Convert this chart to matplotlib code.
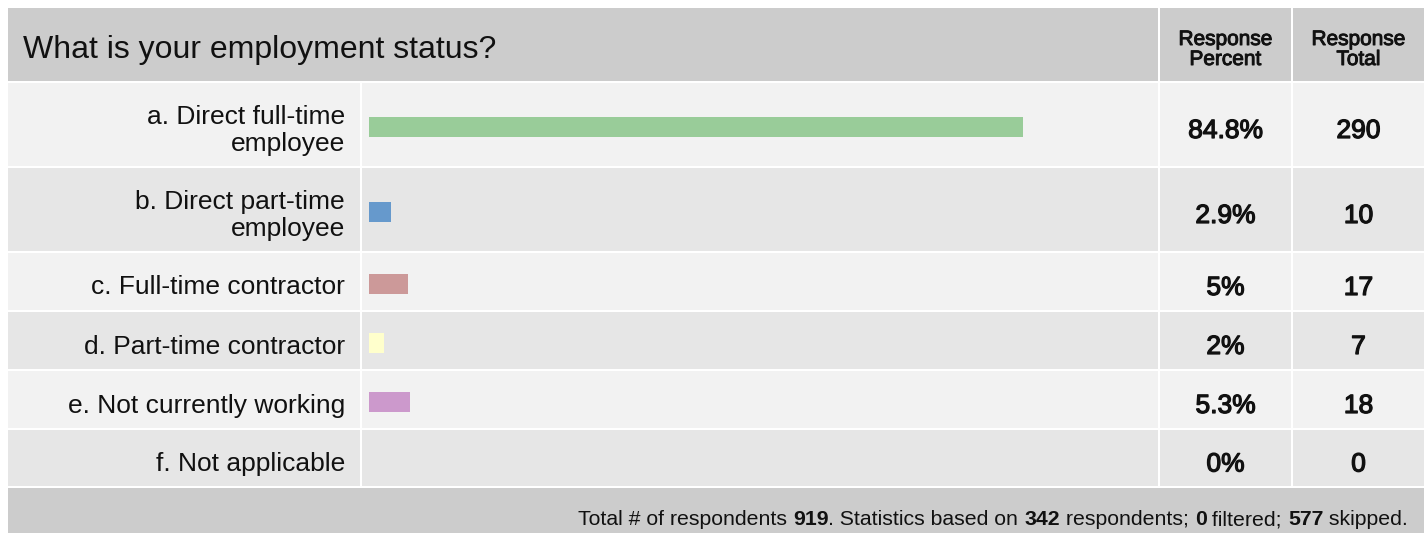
import matplotlib
matplotlib.use("Agg")
import matplotlib.pyplot as plt
from matplotlib.patches import Rectangle
import matplotlib.patheffects as pe

# ---------------- data ----------------
title = "What is your employment status?"
categories = ["a. Direct full-time\nemployee", "b. Direct part-time\nemployee",
              "c. Full-time contractor", "d. Part-time contractor",
              "e. Not currently working", "f. Not applicable"]
percents = [84.8, 2.9, 5.0, 2.0, 5.3, 0.0]
totals = [290, 10, 17, 7, 18, 0]
bar_colors = ["#99CC99", "#6699CC", "#CC9999", "#FFFFCC", "#CC99CC", "#CCCCCC"]
col_headers = ["Response\nPercent", "Response\nTotal"]
footer_parts = [("Total # of respondents ", False), ("919", True),
                (". Statistics based on ", False), ("342", True),
                (" respondents; ", False), ("0", True), (" filtered; ", False),
                ("577", True), (" skipped.", False)]

# ---------------- layout (pixels) ----------------
W, H = 1428, 533
plt.rcParams['font.family'] = ['Liberation Sans', 'DejaVu Sans']
fig = plt.figure(figsize=(W / 100, H / 100), dpi=100)
ax = fig.add_axes([0, 0, 1, 1])
ax.set_xlim(0, W)
ax.set_ylim(H, 0)
ax.axis('off')

X0, X1 = 8, 1424
cols = [(8, 360), (362, 1158), (1160, 1291), (1293, 1424)]
header = (8, 81)
rows = [(83, 166), (168, 251), (253, 310), (312, 369), (371, 428), (430, 486)]
footer = (488, 533)
row_bg = ["#F2F2F2", "#E6E6E6"]
TXT = '#111111'
medium = [pe.withStroke(linewidth=0.9, foreground=TXT)]
medium_h = [pe.withStroke(linewidth=0.7, foreground=TXT)]


def rect(x0, x1, y0, y1, c):
    ax.add_patch(Rectangle((x0, y0), x1 - x0, y1 - y0, facecolor=c,
                           edgecolor='none', zorder=1))


# header
rect(cols[0][0], cols[1][1], header[0], header[1], "#CCCCCC")
for (c0, c1) in cols[2:]:
    rect(c0, c1, header[0], header[1], "#CCCCCC")
ax.text(23, 58, title, fontsize=23, ha='left', va='baseline', color=TXT, zorder=3)
for (c0, c1), h in zip(cols[2:], col_headers):
    l1, l2 = h.split("\n")
    xc = (c0 + c1) / 2
    ax.text(xc, 45, l1, fontsize=15, ha='center', va='baseline', color=TXT,
            zorder=3, path_effects=medium_h)
    ax.text(xc, 65, l2, fontsize=15, ha='center', va='baseline', color=TXT,
            zorder=3, path_effects=medium_h)

# rows
for i, ((r0, r1), cat, p, t) in enumerate(zip(rows, categories, percents, totals)):
    bg = row_bg[i % 2]
    for (c0, c1) in cols:
        rect(c0, c1, r0, r1, bg)
    yc = (r0 + r1) / 2
    lines = cat.split("\n")
    if len(lines) == 1:
        baselines = [yc + 13]
    else:
        baselines = [yc, yc + 26.5]
    for ln, b in zip(lines, baselines):
        ax.text(345, b, ln, fontsize=19, ha='right', va='baseline', color=TXT, zorder=3)
    ax.text((cols[2][0] + cols[2][1]) / 2, yc + 13.5, f"{p:g}%", fontsize=19,
            ha='center', va='baseline', color=TXT, zorder=3, path_effects=medium)
    ax.text((cols[3][0] + cols[3][1]) / 2, yc + 13.5, f"{t}", fontsize=19,
            ha='center', va='baseline', color=TXT, zorder=3, path_effects=medium)

# footer
rect(X0, X1, footer[0], H + 5, "#CCCCCC")

# bars through their own axes (x in percent)
px_per_pct = 654 / 84.8
bax = fig.add_axes([369 / W, 0, 100 * px_per_pct / W, 1])
bax.set_xlim(0, 100)
bax.set_ylim(H, 0)
bax.axis('off')
bax.patch.set_alpha(0)
centers = [(r0 + r1) / 2 + 2 for (r0, r1) in rows]
bax.barh(centers, percents, height=20, color=bar_colors, edgecolor='none', zorder=2)

# footer text with bold numbers, right aligned
fig.canvas.draw()
renderer = fig.canvas.get_renderer()
texts = []
for s, bold in footer_parts:
    t = ax.text(0, 525, s, fontsize=15.35, fontweight='bold' if bold else 'normal',
                ha='left', va='baseline', color=TXT, zorder=3)
    texts.append(t)
widths = [t.get_window_extent(renderer).width for t in texts]
x = 1408 - sum(widths)
for t, w in zip(texts, widths):
    t.set_x(x)
    x += w

fig.savefig("out.png", dpi=100, facecolor='white')
